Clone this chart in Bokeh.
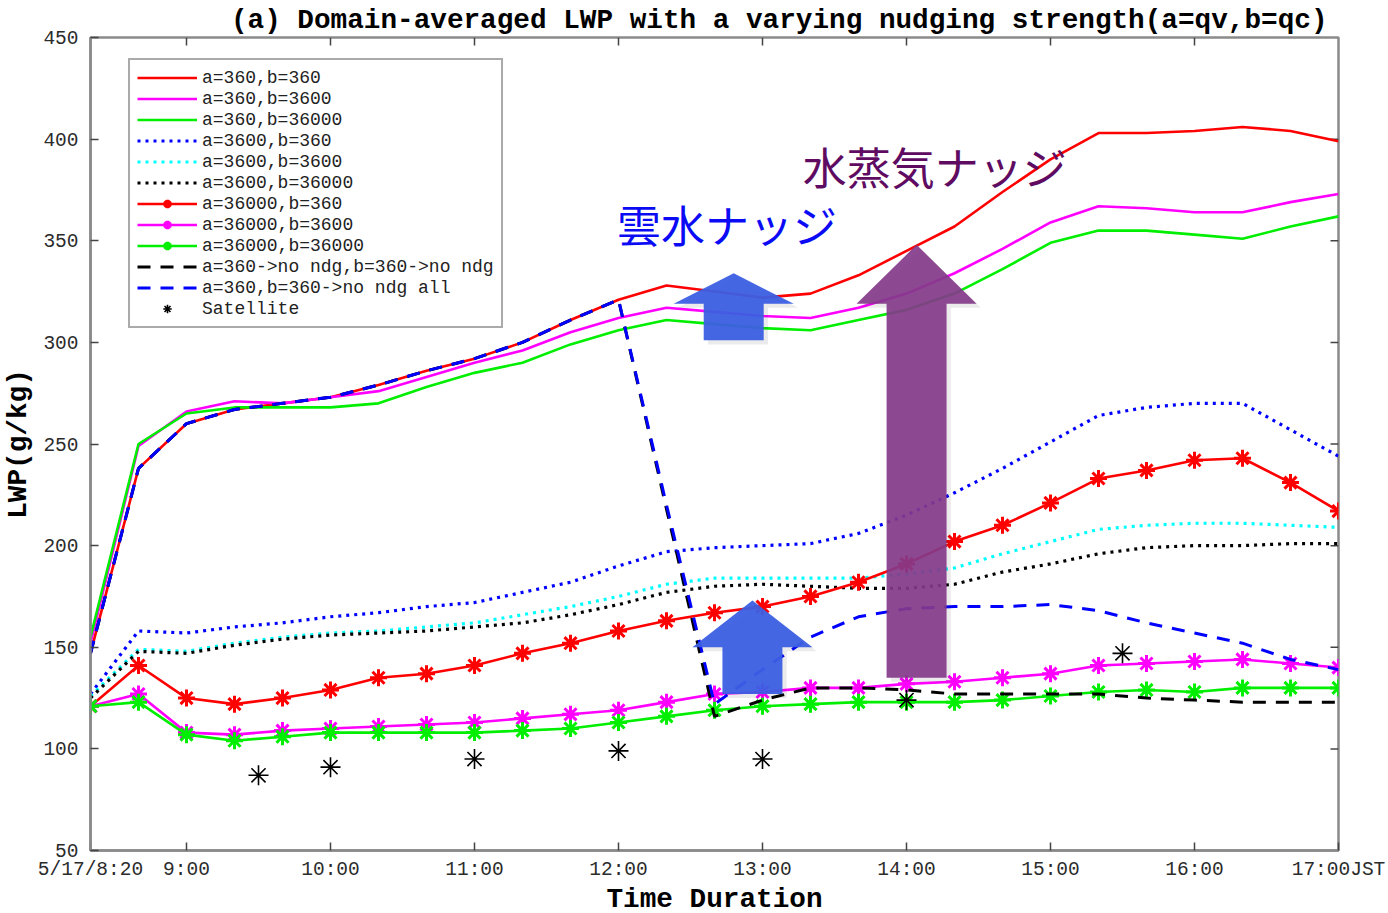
from bokeh.plotting import figure
from bokeh.models import Range1d, FixedTicker, Legend, LegendItem
from bokeh.embed import file_html
from bokeh.resources import INLINE
from bokeh.core.properties import value

# 20-minute output times, 5/17 8:20 - 17:00 JST
TIMES = ["8:20", "8:40", "9:00", "9:20", "9:40", "10:00", "10:20", "10:40", "11:00",
         "11:20", "11:40", "12:00", "12:20", "12:40", "13:00", "13:20", "13:40", "14:00",
         "14:20", "14:40", "15:00", "15:20", "15:40", "16:00", "16:20", "16:40", "17:00"]

# domain-averaged LWP (g/kg) for each nudging configuration (a = qv, b = qc)
LWP_A360_B360 = [147, 238, 260, 267, 270, 273, 279, 286, 292, 300, 311, 321, 328, 325,
                 322, 324, 333, 345, 357, 374, 390, 403, 403, 404, 406, 404, 399]
LWP_A360_B3600 = [152, 249, 266, 271, 270, 273, 276, 283, 290, 296, 305, 312, 317, 315,
                  313, 312, 317, 324, 334, 346, 359, 367, 366, 364, 364, 369, 373]
LWP_A360_B36000 = [155, 250, 265, 268, 268, 268, 270, 278, 285, 290, 299, 306, 311, 309,
                   307, 306, 311, 316, 324, 336, 349, 355, 355, 353, 351, 357, 362]
LWP_A3600_B360 = [127, 158, 157, 160, 162, 165, 167, 170, 172, 177, 182, 190, 197, 199,
                  200, 201, 206, 215, 226, 238, 251, 264, 268, 270, 270, 257, 244]
LWP_A3600_B3600 = [126, 149, 148, 152, 155, 157, 158, 160, 162, 166, 170, 175, 181, 184,
                   184, 184, 184, 186, 189, 196, 202, 208, 210, 211, 211, 210, 209]
LWP_A3600_B36000 = [125, 148, 147, 151, 154, 156, 157, 158, 160, 162, 166, 171, 177, 180,
                    181, 180, 179, 179, 181, 187, 191, 196, 199, 200, 200, 201, 201]
LWP_A36000_B360 = [121, 141, 125, 122, 125, 129, 135, 137, 141, 147, 152, 158, 163, 167,
                   170, 175, 182, 191, 202, 210, 221, 233, 237, 242, 243, 231, 217]
LWP_A36000_B3600 = [121, 127, 108, 107, 109, 110, 111, 112, 113, 115, 117, 119, 123, 127,
                    128, 130, 130, 132, 133, 135, 137, 141, 142, 143, 144, 142, 140]
LWP_A36000_B36000 = [121, 123, 107, 104, 106, 108, 108, 108, 108, 109, 110, 113, 116, 119,
                     121, 122, 123, 123, 123, 124, 126, 128, 129, 128, 130, 130, 130]

# restart runs: identical to a=360,b=360 until 12:00, then nudging switched off
LWP_NONDG = [147, 238, 260, 267, 270, 273, 279, 286, 292, 300, 311, 321, 218, 116,
             124, 130, 130, 129, 127, 127, 127, 127, 125, 124, 123, 123, 123]
LWP_NONDG_ALL = [147, 238, 260, 267, 270, 273, 279, 286, 292, 300, 311, 321, 220, 122,
                 139, 155, 165, 169, 170, 170, 171, 168, 162, 157, 152, 144, 139]

# satellite retrievals
SAT_TIMES = ["9:30", "10:00", "11:00", "12:00", "13:00", "14:00", "15:30"]
SAT_LWP = [87, 91, 95, 99, 95, 124, 147]

TICK_TIMES = ["8:20", "9:00", "10:00", "11:00", "12:00", "13:00", "14:00", "15:00", "16:00", "17:00"]
TICK_LABELS = ["5/17/8:20", "9:00", "10:00", "11:00", "12:00", "13:00", "14:00", "15:00",
               "16:00", "17:00JST"]
Y_TICKS = [50, 100, 150, 200, 250, 300, 350, 400, 450]


def hours(s):
    h, m = s.split(":")
    return int(h) + int(m) / 60.0


t = [hours(s) for s in TIMES]
t_sat = [hours(s) for s in SAT_TIMES]
ticks = [hours(s) for s in TICK_TIMES]

MONO = "Liberation Mono"
FRAME_W, FRAME_H = 1248, 813
X0, X1 = ticks[0], ticks[-1]
Y0, Y1 = Y_TICKS[0], Y_TICKS[-1]

p = figure(frame_width=FRAME_W, frame_height=FRAME_H, output_backend="svg", toolbar_location=None,
           x_range=Range1d(X0, X1), y_range=Range1d(Y0, Y1),
           min_border_left=89, min_border_right=51, min_border_top=37, min_border_bottom=60,
           background_fill_color="white", border_fill_color="white",
           outline_line_color="#8a8a8a", outline_line_width=2.5)
p.grid.visible = False

p.title.text = "(a) Domain-averaged LWP with a varying nudging strength(a=qv,b=qc)"
p.title.align = "right"
p.title.offset = 11
p.title.standoff = 4
p.title.text_font = MONO
p.title.text_font_style = "bold"
p.title.text_font_size = "27.7px"
p.title.text_color = "black"

xax = p.below[0]
yax = p.left[0]
xax.ticker = FixedTicker(ticks=ticks)
xax.major_label_overrides = {tk: lab for tk, lab in zip(ticks, TICK_LABELS)}
yax.ticker = FixedTicker(ticks=Y_TICKS)

for ax in (xax, yax):
    ax.axis_line_color = "#8a8a8a"
    ax.axis_line_width = 2.5
    ax.major_tick_in = 8
    ax.major_tick_out = 0
    ax.major_tick_line_color = "#444444"
    ax.major_tick_line_width = 1.5
    ax.minor_tick_line_color = None
    ax.major_label_text_font = MONO
    ax.major_label_text_font_size = "19.5px"
    ax.major_label_text_color = "#2b2b2b"
    ax.axis_label_text_font = MONO
    ax.axis_label_text_font_style = "bold"
    ax.axis_label_text_font_size = "27.7px"
    ax.axis_label_text_color = "black"

xax.axis_label = "Time Duration"
xax.major_label_standoff = 8
xax.axis_label_standoff = 0
yax.axis_label = "LWP(g/kg)"
yax.major_label_standoff = 12
yax.axis_label_standoff = 6

# inward tick marks along the top and right edges of the box
tick_len_x = 8 * (X1 - X0) / FRAME_W
tick_len_y = 8 * (Y1 - Y0) / FRAME_H
top_ticks = ticks[1:-1]
right_ticks = Y_TICKS[1:-1]
p.segment(x0=top_ticks, y0=[Y1] * len(top_ticks), x1=top_ticks, y1=[Y1 - tick_len_y] * len(top_ticks),
          line_color="#444444", line_width=1.5)
p.segment(x0=[X1] * len(right_ticks), y0=right_ticks, x1=[X1 - tick_len_x] * len(right_ticks),
          y1=right_ticks, line_color="#444444", line_width=1.5)

LW = 2.6
DOT = "3 5"
DASH = "13 10"
r1 = p.line(t, LWP_A360_B360, line_color="#ff0000", line_width=LW)
r2 = p.line(t, LWP_A360_B3600, line_color="#ff00ff", line_width=LW)
r3 = p.line(t, LWP_A360_B36000, line_color="#00ee00", line_width=LW)
r4 = p.line(t, LWP_A3600_B360, line_color="#0000ff", line_width=3.2, line_dash=DOT)
r5 = p.line(t, LWP_A3600_B3600, line_color="#00ffff", line_width=3.2, line_dash=DOT)
r6 = p.line(t, LWP_A3600_B36000, line_color="#000000", line_width=3.2, line_dash=DOT)

marked = []
for ys, col in ((LWP_A36000_B360, "#ff0000"), (LWP_A36000_B3600, "#ff00ff"),
                (LWP_A36000_B36000, "#00ee00")):
    ln = p.line(t, ys, line_color=col, line_width=LW)
    mk = p.scatter(t, ys, marker="asterisk", size=17, line_color=col, line_width=3)
    marked.append([ln, mk])

r10 = p.line(t, LWP_NONDG, line_color="#000000", line_width=3, line_dash=DASH)
r11 = p.line(t, LWP_NONDG_ALL, line_color="#0000ff", line_width=3, line_dash=DASH)
r12 = p.scatter(t_sat, SAT_LWP, marker="asterisk", size=20, line_color="black", line_width=1.6)


def arrow_outline(cx, y_tail, y_base, y_tip, half_shaft, half_head):
    xs = [cx - half_shaft, cx - half_shaft, cx - half_head, cx, cx + half_head,
          cx + half_shaft, cx + half_shaft]
    ys = [y_tail, y_base, y_base, y_tip, y_base, y_base, y_tail]
    return xs, ys


# (centre time, tail, head base, tip, colour, alpha)
ARROWS = [
    (12.80, 301, 319, 334, "#3c5fe3", 0.95),
    (12.93, 127, 150, 173, "#3c5fe3", 0.95),
    (14.07, 135, 319, 348, "#84398a", 0.92),
]
for cx, y0, y1, y2, col, a in ARROWS:
    xs, ys = arrow_outline(cx + 0.03, y0 - 2, y1 - 2, y2 - 2, 0.2083, 0.4167)
    p.patch(xs, ys, fill_color="#000000", fill_alpha=0.08, line_color=None)
    xs, ys = arrow_outline(cx, y0, y1, y2, 0.2083, 0.4167)
    p.patch(xs, ys, fill_color=col, fill_alpha=a, line_color=None)

p.text(x=[11.99], y=[358], text=["雲水ナッジ"], text_font=value("Noto Sans CJK JP"),
       text_font_size="44px", text_color="#0a0af5", text_align="left", text_baseline="middle")
p.text(x=[13.28], y=[387], text=["水蒸気ナッジ"], text_font=value("Noto Sans CJK JP"),
       text_font_size="44px", text_color="#5e0b61", text_align="left", text_baseline="middle")

items = [
    LegendItem(label="a=360,b=360", renderers=[r1]),
    LegendItem(label="a=360,b=3600", renderers=[r2]),
    LegendItem(label="a=360,b=36000", renderers=[r3]),
    LegendItem(label="a=3600,b=360", renderers=[r4]),
    LegendItem(label="a=3600,b=3600", renderers=[r5]),
    LegendItem(label="a=3600,b=36000", renderers=[r6]),
    LegendItem(label="a=36000,b=360", renderers=marked[0]),
    LegendItem(label="a=36000,b=3600", renderers=marked[1]),
    LegendItem(label="a=36000,b=36000", renderers=marked[2]),
    LegendItem(label="a=360->no ndg,b=360->no ndg", renderers=[r10]),
    LegendItem(label="a=360,b=360->no ndg all", renderers=[r11]),
    LegendItem(label="Satellite", renderers=[r12]),
]
legend = Legend(items=items, location=(38, 522), label_text_font=MONO,
                label_text_font_size="18px", label_text_color="#222222",
                glyph_width=60, glyph_height=21, label_height=21, spacing=0,
                padding=7, margin=0, label_standoff=5,
                border_line_color="#555555", border_line_width=2,
                background_fill_color="white", background_fill_alpha=1)
p.add_layout(legend)

open("out.html", "w").write(file_html(p, INLINE))
